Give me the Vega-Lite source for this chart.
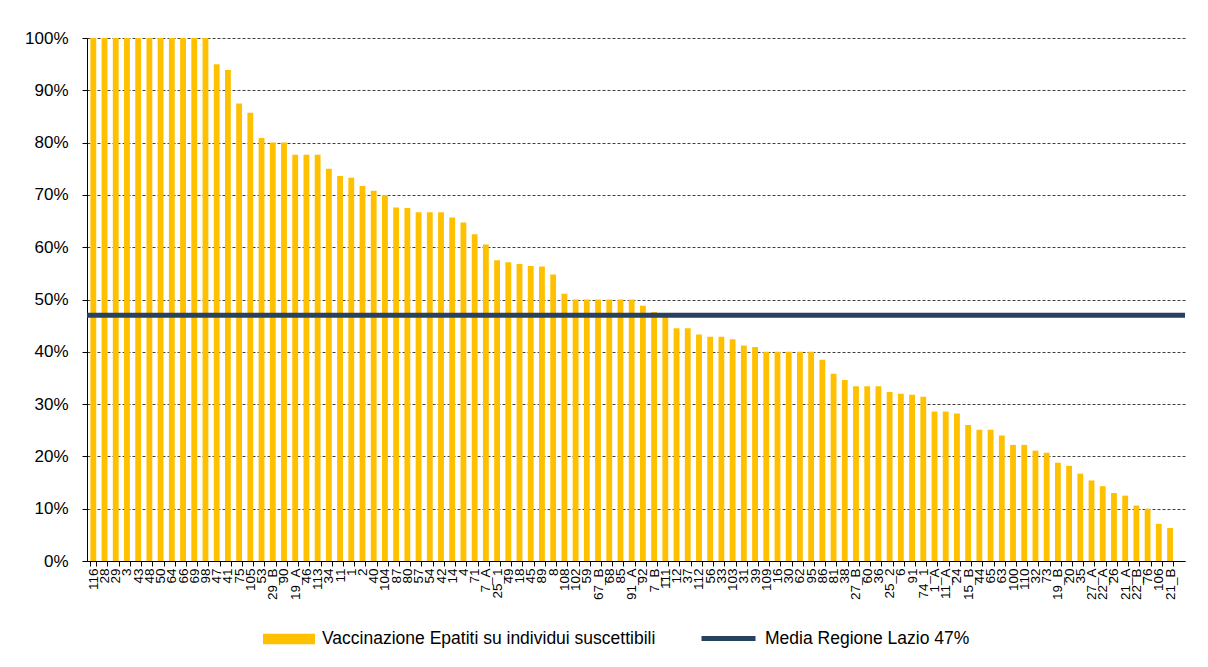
{
  "$schema": "https://vega.github.io/schema/vega-lite/v6.json",
  "width": 1098,
  "height": 523,
  "autosize": {"type": "none"},
  "padding": {"left": 87, "top": 38, "right": 23, "bottom": 106},
  "background": "#ffffff",
  "config": {"view": {"stroke": null}},
  "datasets": {
    "zone": [
      {"zona": "116", "pct": 100}, {"zona": "28", "pct": 100}, {"zona": "29", "pct": 100}, {"zona": "3", "pct": 100},
      {"zona": "43", "pct": 100}, {"zona": "48", "pct": 100}, {"zona": "50", "pct": 100}, {"zona": "64", "pct": 100},
      {"zona": "66", "pct": 100}, {"zona": "69", "pct": 100}, {"zona": "98", "pct": 100}, {"zona": "47", "pct": 95.0},
      {"zona": "41", "pct": 93.9}, {"zona": "75", "pct": 87.5}, {"zona": "105", "pct": 85.7}, {"zona": "53", "pct": 80.9},
      {"zona": "29_B", "pct": 80.0}, {"zona": "90", "pct": 80.0}, {"zona": "19_A", "pct": 77.7}, {"zona": "46", "pct": 77.7},
      {"zona": "113", "pct": 77.7}, {"zona": "34", "pct": 75.0}, {"zona": "11", "pct": 73.6}, {"zona": "1", "pct": 73.3},
      {"zona": "2", "pct": 71.7}, {"zona": "40", "pct": 70.8}, {"zona": "104", "pct": 70.0}, {"zona": "87", "pct": 67.6},
      {"zona": "80", "pct": 67.5}, {"zona": "57", "pct": 66.7}, {"zona": "54", "pct": 66.7}, {"zona": "42", "pct": 66.7},
      {"zona": "14", "pct": 65.7}, {"zona": "4", "pct": 64.7}, {"zona": "71", "pct": 62.5}, {"zona": "7_A", "pct": 60.5},
      {"zona": "25_1", "pct": 57.5}, {"zona": "49", "pct": 57.1}, {"zona": "18", "pct": 56.8}, {"zona": "45", "pct": 56.4},
      {"zona": "89", "pct": 56.3}, {"zona": "8", "pct": 54.8}, {"zona": "108", "pct": 51.1}, {"zona": "102", "pct": 50.0},
      {"zona": "59", "pct": 50.0}, {"zona": "67_B", "pct": 50.0}, {"zona": "68", "pct": 50.0}, {"zona": "85", "pct": 50.0},
      {"zona": "91_A", "pct": 50.0}, {"zona": "92", "pct": 48.8}, {"zona": "7_B", "pct": 47.6}, {"zona": "111", "pct": 46.7},
      {"zona": "12", "pct": 44.5}, {"zona": "37", "pct": 44.5}, {"zona": "112", "pct": 43.3}, {"zona": "56", "pct": 42.9},
      {"zona": "33", "pct": 42.9}, {"zona": "103", "pct": 42.4}, {"zona": "31", "pct": 41.2}, {"zona": "39", "pct": 40.9},
      {"zona": "109", "pct": 40.0}, {"zona": "16", "pct": 40.0}, {"zona": "30", "pct": 40.0}, {"zona": "62", "pct": 40.0},
      {"zona": "95", "pct": 40.0}, {"zona": "86", "pct": 38.5}, {"zona": "81", "pct": 35.8}, {"zona": "38", "pct": 34.6},
      {"zona": "27_B", "pct": 33.4}, {"zona": "60", "pct": 33.4}, {"zona": "36", "pct": 33.4}, {"zona": "25_2", "pct": 32.3},
      {"zona": "6", "pct": 32.0}, {"zona": "91", "pct": 31.8}, {"zona": "74_1", "pct": 31.4}, {"zona": "1_A", "pct": 28.6},
      {"zona": "11_A", "pct": 28.6}, {"zona": "24", "pct": 28.2}, {"zona": "15_B", "pct": 26.0}, {"zona": "44", "pct": 25.1},
      {"zona": "65", "pct": 25.1}, {"zona": "63", "pct": 24.0}, {"zona": "100", "pct": 22.2}, {"zona": "110", "pct": 22.2},
      {"zona": "32", "pct": 21.1}, {"zona": "73", "pct": 20.7}, {"zona": "19_B", "pct": 18.8}, {"zona": "20", "pct": 18.2},
      {"zona": "35", "pct": 16.7}, {"zona": "27_A", "pct": 15.4}, {"zona": "22_A", "pct": 14.3}, {"zona": "26", "pct": 13.0},
      {"zona": "21_A", "pct": 12.5}, {"zona": "22_B", "pct": 10.6}, {"zona": "76", "pct": 10.0}, {"zona": "106", "pct": 7.1},
      {"zona": "21_B", "pct": 6.3}
    ],
    "media": [
      {"serie": "Media Regione Lazio 47%", "valore": 47}
    ]
  },
  "layer": [
    {
      "data": {"name": "zone"},
      "mark": {"type": "bar"},
      "encoding": {
        "x": {
          "field": "zona",
          "type": "nominal",
          "sort": null,
          "scale": {"paddingInner": 0.48, "paddingOuter": 0.688, "align": 0.22},
          "axis": {
            "title": null,
            "labelAngle": 270,
            "labelFont": "Liberation Sans",
            "labelFontSize": 13.5,
            "labelColor": "#000000",
            "labelPadding": 2,
            "labelOverlap": false,
            "tickBand": "extent",
            "tickSize": 5,
            "tickColor": "#000000",
            "domainColor": "#000000",
            "grid": false
          }
        },
        "y": {
          "field": "pct",
          "type": "quantitative",
          "scale": {"domain": [0, 100], "nice": false},
          "axis": {
            "title": null,
            "values": [0, 10, 20, 30, 40, 50, 60, 70, 80, 90, 100],
            "labelExpr": "datum.value + '%'",
            "labelFont": "Liberation Sans",
            "labelFontSize": 17,
            "labelColor": "#000000",
            "labelPadding": 14,
            "tickSize": 5,
            "tickColor": "#000000",
            "domainColor": "#000000",
            "grid": true,
            "gridColor": "#404040",
            "gridDash": [3, 2],
            "gridWidth": 1
          }
        },
        "fill": {
          "datum": "Vaccinazione Epatiti su individui suscettibili",
          "scale": {"range": ["#FFC000"]},
          "legend": {
            "orient": "none",
            "legendX": 176,
            "legendY": 575,
            "title": null,
            "padding": 0,
            "symbolType": "M-1,-0.2H1V0.2H-1Z",
            "symbolSize": 2704,
            "symbolStrokeWidth": 0,
            "labelFont": "Liberation Sans",
            "labelFontSize": 17.5,
            "labelColor": "#000000",
            "labelOffset": 7,
            "labelLimit": 0
          }
        }
      }
    },
    {
      "data": {"name": "media"},
      "mark": {"type": "rule", "strokeWidth": 5},
      "encoding": {
        "y": {"field": "valore", "type": "quantitative"},
        "stroke": {
          "field": "serie",
          "type": "nominal",
          "scale": {"range": ["#28415F"]},
          "legend": {
            "orient": "none",
            "legendX": 612,
            "legendY": 571,
            "title": null,
            "padding": 0,
            "symbolType": "stroke",
            "symbolSize": 2916,
            "symbolStrokeWidth": 5,
            "labelFont": "Liberation Sans",
            "labelFontSize": 17.5,
            "labelColor": "#000000",
            "labelOffset": 7,
            "labelLimit": 0
          }
        }
      }
    }
  ]
}
